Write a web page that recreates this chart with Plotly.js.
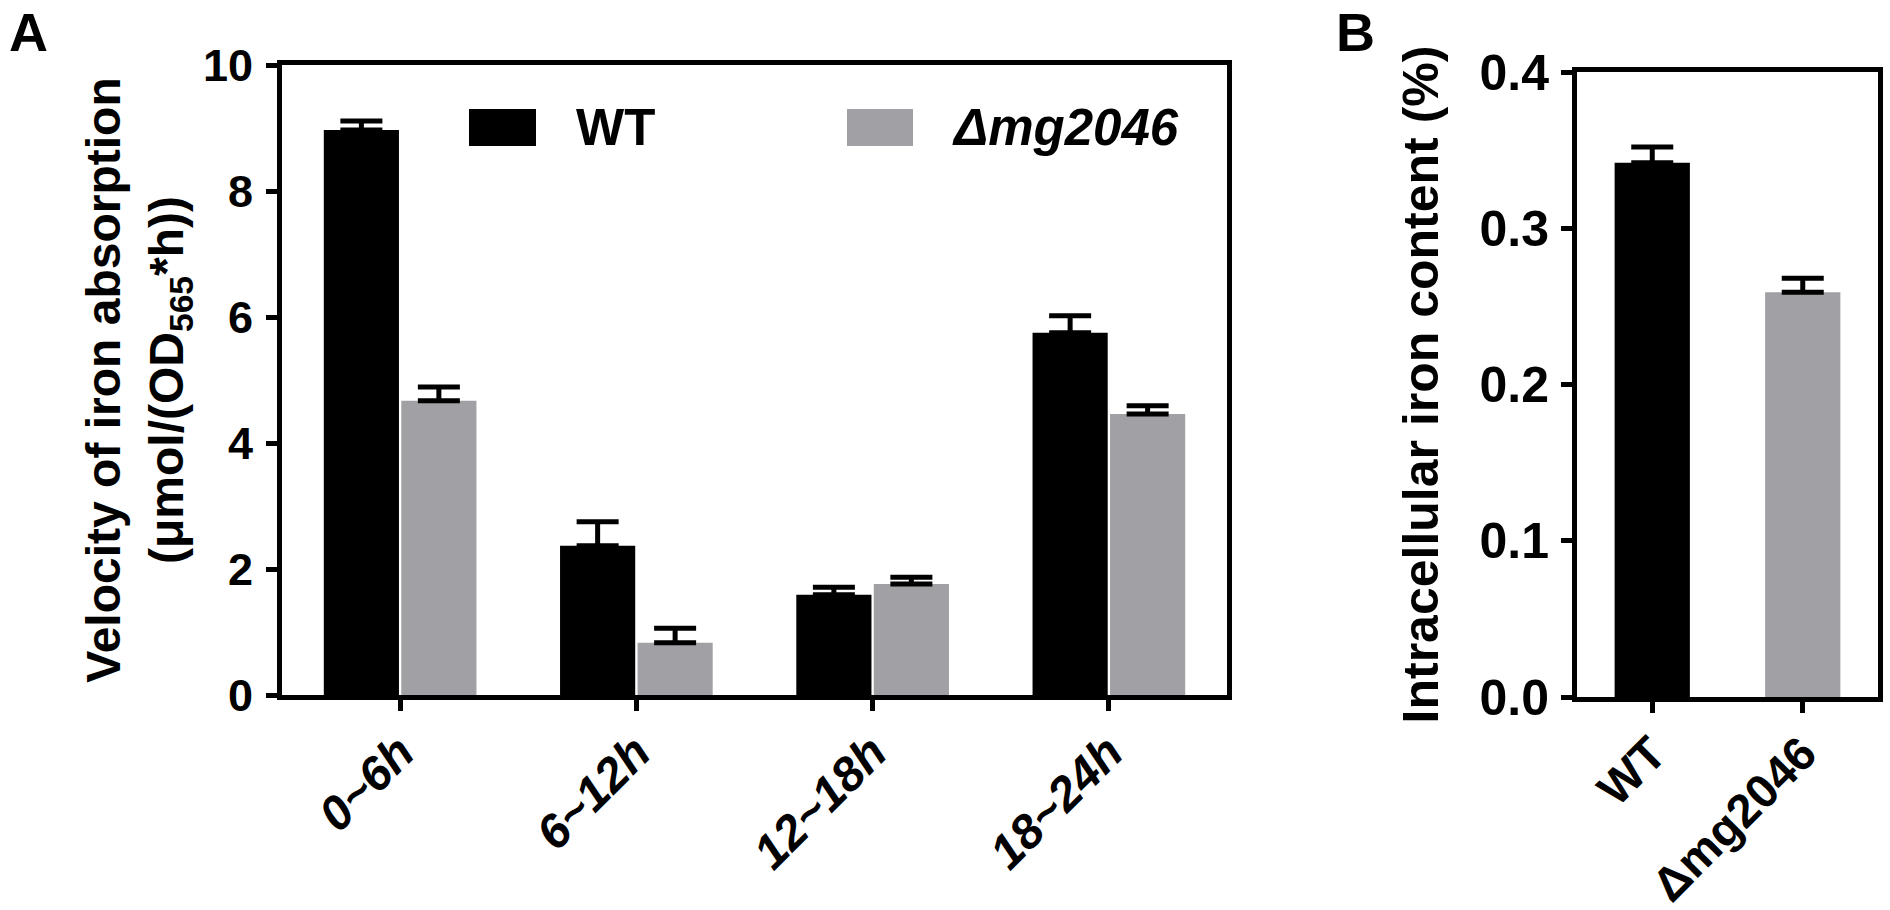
<!DOCTYPE html>
<html>
<head>
<meta charset="utf-8">
<script src="https://cdn.plot.ly/plotly-3.0.1.min.js"></script>
<style>
  html, body { margin: 0; padding: 0; background: #ffffff; }
  #grafico { width: 1890px; height: 910px; }
</style>
</head>
<body>
<div id="grafico"></div>
<script>
/* =========================================
   DADOS
========================================= */

// painel A - velocidade de absorção de ferro
let periodos = ["0~6h", "6~12h", "12~18h", "18~24h"];
let wtVelocidade = [8.97, 2.37, 1.59, 5.75];
let wtVelocidadeErro = [0.14, 0.38, 0.12, 0.27];
let mutVelocidade = [4.67, 0.83, 1.76, 4.46];
let mutVelocidadeErro = [0.22, 0.23, 0.11, 0.13];

// painel B - conteúdo de ferro intracelular
let cepas = ["WT", "Δmg2046"];
let conteudoFerro = [0.342, 0.259];
let conteudoFerroErro = [0.010, 0.009];

let nomesSeries = ["WT", "Δmg2046"];

/* =========================================
   ESTILO
========================================= */

let fonte = "Liberation Sans, Arial, sans-serif";
let corWT = "#000000";
let corMut = "#a1a1a5";

function erroSuperior(arr){
    return {
        type: "data",
        symmetric: false,
        array: arr,
        arrayminus: arr.map(() => 0),
        color: "#000000",
        thickness: 5,
        width: 21
    };
}

let trace1 = {
    type: "bar",
    x: periodos,
    y: wtVelocidade,
    name: nomesSeries[0],
    marker: { color: corWT },
    error_y: erroSuperior(wtVelocidadeErro),
    xaxis: "x",
    yaxis: "y",
    showlegend: false
};

let trace2 = {
    type: "bar",
    x: periodos,
    y: mutVelocidade,
    name: nomesSeries[1],
    marker: { color: corMut },
    error_y: erroSuperior(mutVelocidadeErro),
    xaxis: "x",
    yaxis: "y",
    showlegend: false
};

let trace3 = {
    type: "bar",
    x: cepas,
    y: conteudoFerro,
    width: 0.5,
    marker: { color: [corWT, corMut] },
    error_y: erroSuperior(conteudoFerroErro),
    xaxis: "x2",
    yaxis: "y2",
    showlegend: false
};

let eixoBase = {
    showline: true,
    linewidth: 5,
    linecolor: "#000000",
    mirror: true,
    ticks: "outside",
    ticklen: 11,
    tickwidth: 5,
    tickcolor: "#000000",
    showgrid: false,
    zeroline: false,
    fixedrange: true
};

let layout = {
    width: 1890,
    height: 910,
    margin: { t: 0, l: 0, r: 0, b: 0 },
    paper_bgcolor: "#ffffff",
    plot_bgcolor: "#ffffff",
    barmode: "group",
    bargap: 0.344,
    bargroupgap: 0.03,
    font: { family: fonte, color: "#000000" },

    xaxis: Object.assign({}, eixoBase, {
        domain: [282/1890, 1227/1890],
        anchor: "y",
        type: "category",
        range: [-0.5, 3.5],
        tickangle: -45,
        ticklabelstandoff: -6,
        tickfont: { family: fonte, size: 48, weight: "bold", style: "italic" }
    }),
    yaxis: Object.assign({}, eixoBase, {
        domain: [1 - 695/910, 1 - 65/910],
        anchor: "x",
        range: [0, 10],
        tickmode: "linear",
        dtick: 2,
        ticklabelstandoff: 4,
        tickfont: { family: fonte, size: 45, weight: "bold" },
        title: {
            text: "Velocity of iron absorption<br>(μmol/(OD<sub>565</sub>*h))",
            font: { family: fonte, size: 48, weight: "bold" },
            standoff: 6
        }
    }),

    xaxis2: Object.assign({}, eixoBase, {
        domain: [1577/1890, 1878/1890],
        anchor: "y2",
        type: "category",
        range: [-0.5, 1.5],
        tickangle: -45,
        ticklabelstandoff: -6,
        tickfont: { family: fonte, size: 47, weight: "bold" }
    }),
    yaxis2: Object.assign({}, eixoBase, {
        domain: [1 - 697/910, 1 - 72/910],
        anchor: "x2",
        range: [0, 0.4],
        tickmode: "linear",
        dtick: 0.1,
        tickformat: ".1f",
        ticklabelstandoff: 2,
        tickfont: { family: fonte, size: 50, weight: "bold" },
        title: {
            text: "Intracellular iron content (%)",
            font: { family: fonte, size: 50, weight: "bold" },
            standoff: 26
        }
    }),

    // legenda desenhada à mão (quadrados grandes como no original)
    shapes: [
        {
            type: "rect", xref: "paper", yref: "paper",
            x0: 469/1890, x1: 536/1890, y0: 1 - 146/910, y1: 1 - 109/910,
            fillcolor: corWT, line: { width: 0 }
        },
        {
            type: "rect", xref: "paper", yref: "paper",
            x0: 847/1890, x1: 913/1890, y0: 1 - 146/910, y1: 1 - 109/910,
            fillcolor: corMut, line: { width: 0 }
        }
    ],

    annotations: [
        {
            text: nomesSeries[0], xref: "paper", yref: "paper",
            x: 574/1890, y: 1 - 128/910, xanchor: "left", yanchor: "middle",
            showarrow: false,
            font: { family: fonte, size: 51, weight: "bold" }
        },
        {
            text: nomesSeries[1], xref: "paper", yref: "paper",
            x: 950/1890, y: 1 - 128/910, xanchor: "left", yanchor: "middle",
            showarrow: false,
            font: { family: fonte, size: 51, weight: "bold", style: "italic" }
        },
        {
            text: "A", xref: "paper", yref: "paper",
            x: 28/1890, y: 1 - 32/910, xanchor: "center", yanchor: "middle",
            showarrow: false,
            font: { family: fonte, size: 54, weight: "bold" }
        },
        {
            text: "B", xref: "paper", yref: "paper",
            x: 1355/1890, y: 1 - 32/910, xanchor: "center", yanchor: "middle",
            showarrow: false,
            font: { family: fonte, size: 54, weight: "bold" }
        }
    ]
};

Plotly.newPlot(
    "grafico",
    [trace1, trace2, trace3],
    layout,
    { displayModeBar: false, staticPlot: true }
);
</script>
</body>
</html>
